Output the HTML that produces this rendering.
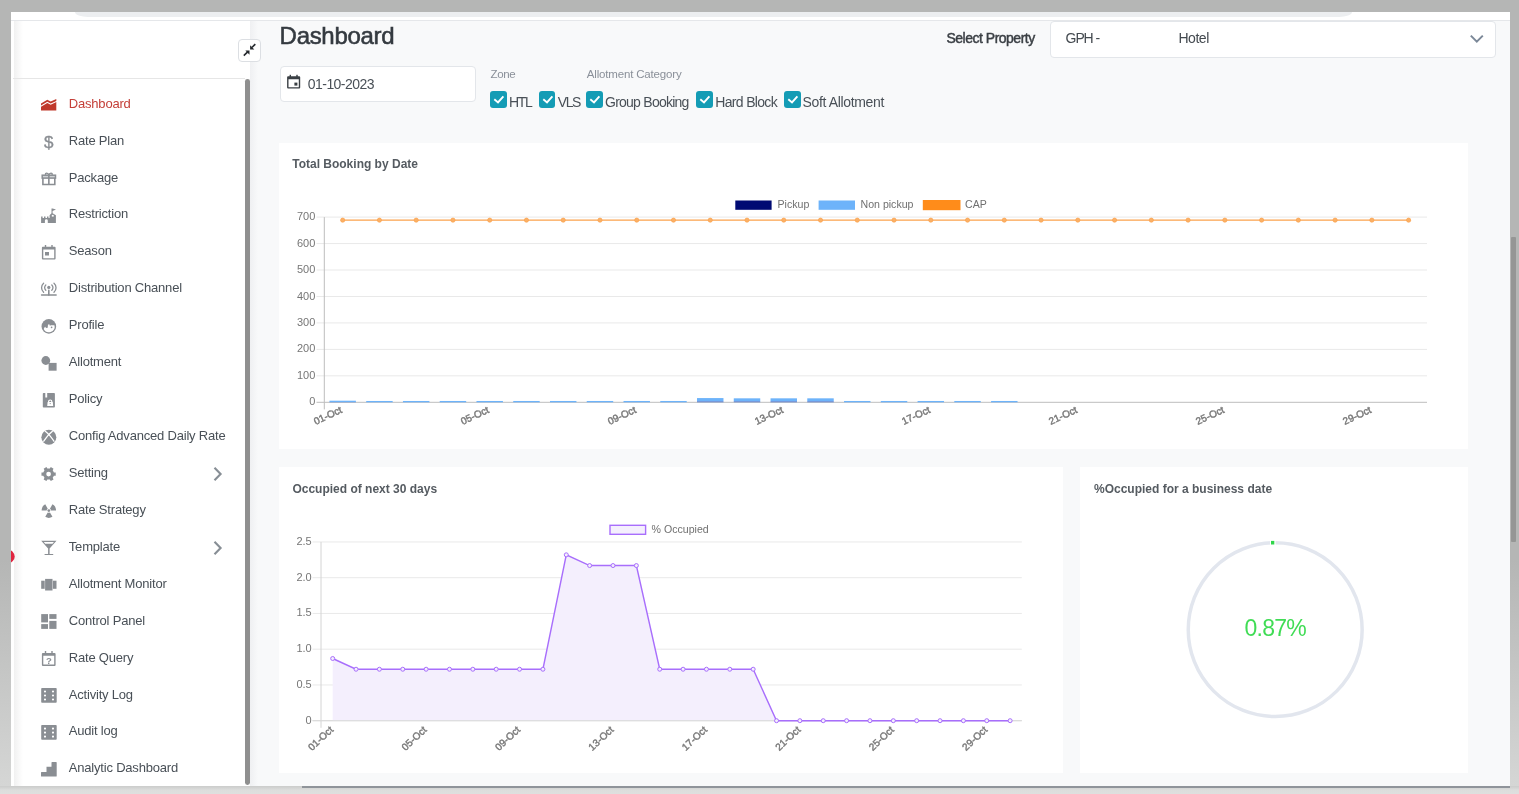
<!DOCTYPE html>
<html>
<head>
<meta charset="utf-8">
<title>Dashboard</title>
<style>
html,body{margin:0;padding:0;}
body{width:1519px;height:794px;position:relative;overflow:hidden;background:linear-gradient(to bottom,#b5b6b5 0px,#b5b6b5 560px,#d5d6d5 786px);font-family:"Liberation Sans",Arial,sans-serif;}
#frameb{position:absolute;left:0;top:786px;width:1519px;height:8px;background:linear-gradient(to bottom,#cbcccb 0px,#d3d4d3 2px,#dcdddc 4px,#dedfde 8px);}
#botline{position:absolute;left:302px;top:786px;width:1208px;height:1.6px;background:#8f949a;}
#app{position:absolute;left:11px;top:12px;width:1499px;height:774px;background:#f8f9fa;overflow:hidden;}
.abs{position:absolute;}
#topstrip{position:absolute;left:0;top:0;width:1499px;height:8px;background:#fff;}
#pill{position:absolute;left:64px;top:0;width:1277px;height:5px;background:#eceef0;border-radius:0 0 13px 13px / 0 0 5px 5px;}
#topline{position:absolute;left:0;top:8px;width:1499px;height:1px;background:#e5e7ea;}
#sidebar{position:absolute;left:0;top:9px;width:239px;height:765px;background:#fff;}
#sideshade{position:absolute;left:3px;top:9px;width:9px;height:765px;background:linear-gradient(90deg,#f1f1f1,#fff);}
#sideline{position:absolute;left:2px;top:66px;width:232px;height:1px;background:#e6e6e6;}
#sidescroll{position:absolute;left:234.2px;top:67px;width:4.9px;height:706px;background:#8f8f8f;border-radius:2.4px;}
#mainshade{position:absolute;left:239px;top:9px;width:8px;height:765px;background:linear-gradient(90deg,#eff0f2,#f8f9fa);}
#collapse{position:absolute;left:227.4px;top:27.2px;width:20.5px;height:20.7px;border:1px solid #dcdfe3;border-radius:4px;background:#fff;}
/* page-absolute elements */
.p{position:absolute;}
.ic{position:absolute;overflow:visible;}
.si{position:absolute;left:68.8px;height:20px;line-height:20px;font-size:13px;letter-spacing:-0.2px;color:#495057;white-space:nowrap;}
.si.act{color:#c43f38;}
#title{left:279.6px;top:18.6px;font-size:24px;font-weight:normal;letter-spacing:-0.3px;color:#343a40;line-height:34px;white-space:nowrap;-webkit-text-stroke:0.55px #343a40;}
.inp{position:absolute;background:#fff;border:1px solid #e3e6ea;border-radius:4px;box-sizing:border-box;}
.lbl{position:absolute;font-size:11.5px;color:#8a9099;white-space:nowrap;letter-spacing:-0.35px;}
.cb{position:absolute;top:91px;width:16.6px;height:16.7px;background:#149cb5;border-radius:3px;}
.cbt{position:absolute;top:93.2px;font-size:14px;line-height:18px;color:#495057;white-space:nowrap;letter-spacing:-0.85px;}
.card{position:absolute;background:#fff;}
.ctitle{position:absolute;font-size:12px;font-weight:bold;color:#555b61;white-space:nowrap;margin-top:0.8px;}
#scrollR{position:absolute;left:1511px;top:237px;width:5px;height:305px;background:#959695;border-radius:1px;}
</style>
</head>
<body>
<div id="app">
  <div id="topstrip"></div>
  <div id="pill"></div>
  <div id="topline"></div>
  <div id="mainshade"></div>
  <div id="sidebar"></div>
  <div id="sideshade"></div>
  <div id="sideline"></div>
  <div id="sidescroll"></div>
  <div id="collapse"><svg width="22.5" height="22.7" viewBox="0 0 22.5 22.7" style="position:absolute;left:-1px;top:-1px"><g fill="#24282d"><path d="M11.5 11.6 L11.5 15.8 L7.3 11.6 Z"/><path d="M12.1 10.5 L12.1 6.3 L16.3 10.5 Z"/></g><g stroke="#24282d" stroke-width="1.6" fill="none"><path d="M5.8 16.7 L9.7 12.9"/><path d="M17.3 5.1 L13.9 8.5"/></g></svg></div>
</div>

<!-- sidebar content -->
<svg class="ic" style="left:40px;top:96px" width="18" height="18" viewBox="40 96 18 18" fill="#c0392b"><path d="M41 103.6 L47.3 99.8 L50.7 101.6 L56.3 98.9 L56.3 100.9 L50.7 103.6 L47.3 101.8 L41 105.6 Z"/><path d="M41 106.8 L47.3 103 L50.7 104.8 L56.3 102.1 L56.3 110.6 L41 110.6 Z"/></svg>
<div class="si act" style="top:93.6px">Dashboard</div>
<svg class="ic" style="left:40px;top:132px" width="18" height="18" viewBox="40 132 18 18" fill="#8a8e93"><text x="48.8" y="147.6" text-anchor="middle" font-family="Liberation Sans" font-size="17" stroke="#8a8e93" stroke-width="0.35" fill="#8a8e93">$</text></svg>
<div class="si" style="top:130.5px">Rate Plan</div>
<svg class="ic" style="left:40px;top:170px" width="18" height="18" viewBox="40 170 18 18" fill="#8a8e93"><rect x="42.2" y="175.2" width="13.3" height="2.9" fill="#cfd2d5" stroke="#8a8e93" stroke-width="1.5"/><path fill="none" stroke="#8a8e93" stroke-width="1.6" d="M42.9 178 V184.5 H54.8 V178 M48.85 175.2 V184.5"/><path fill="none" stroke="#8a8e93" stroke-width="1.4" d="M48.85 175.1 C48.2 172.6 45 172.4 45.6 174.9 M48.85 175.1 C49.5 172.6 52.7 172.4 52.1 174.9"/></svg>
<div class="si" style="top:167.5px">Package</div>
<svg class="ic" style="left:40px;top:206px" width="18" height="18" viewBox="40 206 18 18" fill="#8a8e93"><path d="M41.1 222.9 V216.5 H42.6 V218 H44 V216.5 H45.5 V218 H47 V216.5 H48.5 V218 H49.6 V215.3 L51.5 213.3 V208.5 H52.6 L56 209.6 L52.6 210.9 V213.3 L55.9 215.3 V222.9 H47.8 V220.6 A1.45 1.45 0 0 0 44.9 220.6 V222.9 Z"/><rect x="51.8" y="214.9" width="1.9" height="1.7" fill="#fff"/></svg>
<div class="si" style="top:204.4px">Restriction</div>
<svg class="ic" style="left:40px;top:243px" width="18" height="18" viewBox="40 243 18 18" fill="#8a8e93"><path fill-rule="evenodd" d="M43 246.8 H54.6 A1 1 0 0 1 55.6 247.8 V258.6 A1 1 0 0 1 54.6 259.6 H42.9 A1 1 0 0 1 41.9 258.6 V247.8 A1 1 0 0 1 43 246.8 Z M43.3 249.6 V258.2 H54.2 V249.6 Z"/><rect x="44.8" y="245" width="1.4" height="2.5"/><rect x="51.3" y="245" width="1.4" height="2.5"/><rect x="45" y="252" width="4" height="3.5"/></svg>
<div class="si" style="top:241.3px">Season</div>
<svg class="ic" style="left:40px;top:280px" width="18" height="18" viewBox="40 280 18 18" fill="#8a8e93"><g fill="none" stroke="#8a8e93" stroke-width="1.3" stroke-linecap="round"><path d="M43.6 283.2 A6 6 0 0 0 43.6 292.2 M54 283.2 A6 6 0 0 1 54 292.2"/><path d="M45.8 285 A3.5 3.5 0 0 0 45.8 290.2 M51.8 285 A3.5 3.5 0 0 1 51.8 290.2"/><path d="M41.5 295 H56.2"/><path stroke-width="1.6" d="M48.8 290.4 V295"/></g><circle cx="48.8" cy="287.4" r="1.6"/></svg>
<div class="si" style="top:278.2px">Distribution Channel</div>
<svg class="ic" style="left:40px;top:316px" width="18" height="18" viewBox="40 316 18 18" fill="#8a8e93"><circle cx="48.85" cy="326.4" r="7.3"/><path fill="#fff" d="M43.7 329.1 L44.6 327.3 L45.4 326.7 L45.9 327.9 L47.7 327.8 L48.0 324.5 L49.6 324.5 L49.8 325.7 C51 325.3 53.4 325.2 54.6 325.6 A5.8 5.8 0 0 1 43.7 329.1 Z"/><circle cx="51.6" cy="327.3" r="0.85"/></svg>
<div class="si" style="top:315.2px">Profile</div>
<svg class="ic" style="left:40px;top:354px" width="18" height="18" viewBox="40 354 18 18" fill="#8a8e93"><circle cx="45.8" cy="360.5" r="4.4"/><rect x="48.6" y="362.9" width="8" height="7.8"/></svg>
<div class="si" style="top:352.1px">Allotment</div>
<svg class="ic" style="left:40px;top:391px" width="18" height="18" viewBox="40 391 18 18" fill="#8a8e93"><path d="M43.6 393 H45.3 V397.5 H47.2 V393 H54.1 A0.8 0.8 0 0 1 54.9 393.8 V406.7 A0.8 0.8 0 0 1 54.1 407.5 H43.6 A0.8 0.8 0 0 1 42.8 406.7 V393.8 A0.8 0.8 0 0 1 43.6 393 Z"/><path fill="#fff" d="M47.6 402 H52.8 L53.2 405.9 H47.2 Z"/><path fill="none" stroke="#fff" stroke-width="1.2" d="M48.6 402.2 V401.6 A1.6 1.6 0 0 1 51.8 401.6 V402.2"/><circle cx="50.2" cy="403.6" r="0.6" fill="#8a8e93"/></svg>
<div class="si" style="top:389.0px">Policy</div>
<svg class="ic" style="left:40px;top:428px" width="18" height="18" viewBox="40 428 18 18" fill="#8a8e93"><circle cx="48.85" cy="437.2" r="7.5"/><path fill="none" stroke="#fff" stroke-width="1.2" d="M45 430.9 Q49.6 434.4 54.3 441.6 M52.7 430.9 Q48.1 434.4 43.4 441.6"/></svg>
<div class="si" style="top:426.0px">Config Advanced Daily Rate</div>
<svg class="ic" style="left:40px;top:465px" width="18" height="18" viewBox="40 465 18 18" fill="#8a8e93"><path fill-rule="evenodd" d="M53.95 472.40 L55.72 472.46 L55.72 475.64 L53.95 475.70 L52.71 477.86 L53.54 479.42 L50.78 481.02 L49.84 479.51 L47.36 479.51 L46.42 481.02 L43.66 479.42 L44.49 477.86 L43.25 475.70 L41.48 475.64 L41.48 472.46 L43.25 472.40 L44.49 470.24 L43.66 468.68 L46.42 467.08 L47.36 468.59 L49.84 468.59 L50.78 467.08 L53.54 468.68 L52.71 470.24 Z M48.6 471.7 A2.35 2.35 0 1 0 48.6 476.4 A2.35 2.35 0 1 0 48.6 471.7 Z"/></svg>
<div class="si" style="top:462.9px">Setting</div>
<svg class="ic" style="left:210.5px;top:465.9px" width="14" height="16" viewBox="0 0 14 16"><path d="M3.5 1.8 L9.6 8 L3.5 14.2" fill="none" stroke="#878e95" stroke-width="2.1"/></svg>
<svg class="ic" style="left:40px;top:501px" width="18" height="18" viewBox="40 501 18 18" fill="#8a8e93"><path d="M46.65 510.60 L41.65 510.60 A7.2 7.2 0 0 1 45.25 504.36 L47.75 508.69 A2.2 2.2 0 0 0 46.65 510.60 Z M49.95 508.69 L52.45 504.36 A7.2 7.2 0 0 1 56.05 510.60 L51.05 510.60 A2.2 2.2 0 0 0 49.95 508.69 Z M49.95 512.51 L52.45 516.84 A7.2 7.2 0 0 1 45.25 516.84 L47.75 512.51 A2.2 2.2 0 0 0 49.95 512.51 Z"/><circle cx="48.85" cy="510.6" r="1.4"/></svg>
<div class="si" style="top:499.8px">Rate Strategy</div>
<svg class="ic" style="left:40px;top:538px" width="18" height="18" viewBox="40 538 18 18" fill="#8a8e93"><path fill-rule="evenodd" d="M41.2 540.7 H56.5 L49.6 548.6 V553.9 H53.2 V555.1 H44.6 V553.9 H48.1 V548.6 Z M43.8 542.1 L45.2 543.8 H52.5 L53.9 542.1 Z"/></svg>
<div class="si" style="top:536.8px">Template</div>
<svg class="ic" style="left:210.5px;top:539.8px" width="14" height="16" viewBox="0 0 14 16"><path d="M3.5 1.8 L9.6 8 L3.5 14.2" fill="none" stroke="#878e95" stroke-width="2.1"/></svg>
<svg class="ic" style="left:40px;top:576px" width="18" height="18" viewBox="40 576 18 18" fill="#8a8e93"><rect x="41.2" y="580.7" width="3.5" height="8.1"/><rect x="45.1" y="578.9" width="7.4" height="11.6"/><rect x="52.9" y="580.7" width="3.6" height="8.1"/></svg>
<div class="si" style="top:573.7px">Allotment Monitor</div>
<svg class="ic" style="left:40px;top:612px" width="18" height="18" viewBox="40 612 18 18" fill="#8a8e93"><rect x="41.2" y="614.1" width="6.8" height="8.3"/><rect x="41.2" y="624.1" width="6.8" height="4.8"/><rect x="49.3" y="614.1" width="7.2" height="4.8"/><rect x="49.3" y="620.9" width="7.2" height="8"/></svg>
<div class="si" style="top:610.6px">Control Panel</div>
<svg class="ic" style="left:40px;top:649px" width="18" height="18" viewBox="40 649 18 18" fill="#8a8e93"><path fill-rule="evenodd" d="M43 653 H54.6 A1 1 0 0 1 55.6 654 V665 A1 1 0 0 1 54.6 666 H42.9 A1 1 0 0 1 41.9 665 V654 A1 1 0 0 1 43 653 Z M43.3 655.8 V664.6 H54.2 V655.8 Z"/><rect x="44.8" y="651" width="1.4" height="2.5"/><rect x="51.3" y="651" width="1.4" height="2.5"/><text x="48.8" y="664" text-anchor="middle" font-family="Liberation Sans" font-size="9.5" font-weight="bold" fill="#8a8e93">?</text></svg>
<div class="si" style="top:647.6px">Rate Query</div>
<svg class="ic" style="left:40px;top:686px" width="18" height="18" viewBox="40 686 18 18" fill="#8a8e93"><path fill-rule="evenodd" d="M42 687.9 H55.9 A0.8 0.8 0 0 1 56.7 688.6999999999999 V701.9 A0.8 0.8 0 0 1 55.9 702.6999999999999 H42 A0.8 0.8 0 0 1 41.2 701.9 V688.6999999999999 A0.8 0.8 0 0 1 42 687.9 Z M43.9 691.5 A1.1 1.1 0 1 0 46.1 691.5 A1.1 1.1 0 1 0 43.9 691.5 Z M51.9 691.5 A1.1 1.1 0 1 0 54.1 691.5 A1.1 1.1 0 1 0 51.9 691.5 Z M43.9 695.5 A1.1 1.1 0 1 0 46.1 695.5 A1.1 1.1 0 1 0 43.9 695.5 Z M51.9 695.5 A1.1 1.1 0 1 0 54.1 695.5 A1.1 1.1 0 1 0 51.9 695.5 Z M43.9 699.5 A1.1 1.1 0 1 0 46.1 699.5 A1.1 1.1 0 1 0 43.9 699.5 Z M51.9 699.5 A1.1 1.1 0 1 0 54.1 699.5 A1.1 1.1 0 1 0 51.9 699.5 Z"/></svg>
<div class="si" style="top:684.5px">Activity Log</div>
<svg class="ic" style="left:40px;top:723px" width="18" height="18" viewBox="40 723 18 18" fill="#8a8e93"><path fill-rule="evenodd" d="M42 725.0 H55.9 A0.8 0.8 0 0 1 56.7 725.8 V739.0 A0.8 0.8 0 0 1 55.9 739.8 H42 A0.8 0.8 0 0 1 41.2 739.0 V725.8 A0.8 0.8 0 0 1 42 725.0 Z M43.9 728.6 A1.1 1.1 0 1 0 46.1 728.6 A1.1 1.1 0 1 0 43.9 728.6 Z M51.9 728.6 A1.1 1.1 0 1 0 54.1 728.6 A1.1 1.1 0 1 0 51.9 728.6 Z M43.9 732.6 A1.1 1.1 0 1 0 46.1 732.6 A1.1 1.1 0 1 0 43.9 732.6 Z M51.9 732.6 A1.1 1.1 0 1 0 54.1 732.6 A1.1 1.1 0 1 0 51.9 732.6 Z M43.9 736.6 A1.1 1.1 0 1 0 46.1 736.6 A1.1 1.1 0 1 0 43.9 736.6 Z M51.9 736.6 A1.1 1.1 0 1 0 54.1 736.6 A1.1 1.1 0 1 0 51.9 736.6 Z"/></svg>
<div class="si" style="top:721.4px">Audit log</div>
<svg class="ic" style="left:40px;top:760px" width="18" height="18" viewBox="40 760 18 18" fill="#8a8e93"><path d="M41.6 772 H46.5 V766.8 H51.5 V762.6 A0.6 0.6 0 0 1 52.1 762 H56.1 A0.6 0.6 0 0 1 56.7 762.6 V775.9 A0.6 0.6 0 0 1 56.1 776.5 H41.6 A0.6 0.6 0 0 1 41 775.9 V772.6 A0.6 0.6 0 0 1 41.6 772 Z"/></svg>
<div class="si" style="top:758.3px">Analytic Dashboard</div>

<!-- header -->
<div id="title" class="p">Dashboard</div>
<div class="inp" style="left:279.7px;top:65.5px;width:196.8px;height:36.1px;"></div>
<svg class="ic" style="left:286px;top:74px" width="16" height="16" viewBox="286 74 16 16" fill="#3a3f44">
  <path fill-rule="evenodd" d="M288.2 76.3 H299.2 A1 1 0 0 1 300.2 77.3 V87.6 A1 1 0 0 1 299.2 88.6 H288.1 A1 1 0 0 1 287.1 87.6 V77.3 A1 1 0 0 1 288.2 76.3 Z M288.5 79.3 V87.2 H298.8 V79.3 Z"/>
  <rect x="289.6" y="74.8" width="1.4" height="2.2"/><rect x="296.3" y="74.8" width="1.4" height="2.2"/>
  <rect x="294.4" y="82.6" width="3" height="3"/>
</svg>
<div class="p" style="left:307.8px;top:74.6px;font-size:14px;line-height:18px;color:#495057;letter-spacing:-0.55px;">01-10-2023</div>

<div class="lbl" style="left:490.5px;top:67.7px;">Zone</div>
<div class="lbl" style="left:586.8px;top:67.7px;letter-spacing:-0.17px;">Allotment Category</div>

<div class="cb" style="left:490.3px"></div><svg class="ic" style="left:490.3px;top:91px" width="17" height="17" viewBox="0 0 17 17"><path d="M4.3 8.3 L8.0 11.4 L13.4 5.3" fill="none" stroke="#fff" stroke-width="1.9"/></svg>
<div class="cbt" style="left:509px;letter-spacing:-1.3px">HTL</div>
<div class="cb" style="left:538.8px"></div><svg class="ic" style="left:538.8px;top:91px" width="17" height="17" viewBox="0 0 17 17"><path d="M4.3 8.3 L8.0 11.4 L13.4 5.3" fill="none" stroke="#fff" stroke-width="1.9"/></svg>
<div class="cbt" style="left:557.8px;letter-spacing:-1.4px">VLS</div>
<div class="cb" style="left:586.4px"></div><svg class="ic" style="left:586.4px;top:91px" width="17" height="17" viewBox="0 0 17 17"><path d="M4.3 8.3 L8.0 11.4 L13.4 5.3" fill="none" stroke="#fff" stroke-width="1.9"/></svg>
<div class="cbt" style="left:605px;letter-spacing:-0.75px">Group Booking</div>
<div class="cb" style="left:696.2px"></div><svg class="ic" style="left:696.2px;top:91px" width="17" height="17" viewBox="0 0 17 17"><path d="M4.3 8.3 L8.0 11.4 L13.4 5.3" fill="none" stroke="#fff" stroke-width="1.9"/></svg>
<div class="cbt" style="left:715.3px;letter-spacing:-0.68px">Hard Block</div>
<div class="cb" style="left:784px"></div><svg class="ic" style="left:784px;top:91px" width="17" height="17" viewBox="0 0 17 17"><path d="M4.3 8.3 L8.0 11.4 L13.4 5.3" fill="none" stroke="#fff" stroke-width="1.9"/></svg>
<div class="cbt" style="left:802.5px;letter-spacing:-0.35px">Soft Allotment</div>

<div class="p" style="left:946.5px;top:29.2px;font-size:14px;line-height:18px;color:#3a3f44;-webkit-text-stroke:0.45px #3a3f44;letter-spacing:-0.5px;white-space:nowrap;">Select Property</div>
<div class="inp" style="left:1049.5px;top:21.2px;width:446.5px;height:36.5px;"></div>
<div class="p" style="left:1065.6px;top:29.2px;font-size:14px;line-height:18px;color:#43494f;letter-spacing:-1.1px;white-space:nowrap;">GPH -</div>
<div class="p" style="left:1178.4px;top:29.2px;font-size:14px;line-height:18px;color:#43494f;letter-spacing:-0.45px;white-space:nowrap;">Hotel</div>
<svg class="ic" style="left:1468px;top:31px" width="16" height="14" viewBox="0 0 16 14"><path d="M2.8 4.6 L8.8 10.6 L14.8 4.6" fill="none" stroke="#7b8898" stroke-width="2"/></svg>

<!-- cards -->
<div class="card" style="left:279px;top:143px;width:1189px;height:305.6px;"></div>
<div class="ctitle" style="left:292.2px;top:156px;">Total Booking by Date</div>
<div class="card" style="left:279px;top:467.3px;width:783.7px;height:305.4px;"></div>
<div class="ctitle" style="left:292.4px;top:481px;">Occupied of next 30 days</div>
<div class="card" style="left:1080.4px;top:467.3px;width:387.6px;height:305.4px;"></div>
<div class="ctitle" style="left:1094px;top:481px;">%Occupied for a business date</div>

<svg class="p" style="left:0;top:0" width="1519" height="794" viewBox="0 0 1519 794">
<line x1="316.5" y1="402.30" x2="1427.0" y2="402.30" stroke="#bdbdbd" stroke-width="1"/>
<line x1="316.5" y1="375.84" x2="1427.0" y2="375.84" stroke="#e9e9e9" stroke-width="1"/>
<line x1="316.5" y1="349.39" x2="1427.0" y2="349.39" stroke="#e9e9e9" stroke-width="1"/>
<line x1="316.5" y1="322.93" x2="1427.0" y2="322.93" stroke="#e9e9e9" stroke-width="1"/>
<line x1="316.5" y1="296.47" x2="1427.0" y2="296.47" stroke="#e9e9e9" stroke-width="1"/>
<line x1="316.5" y1="270.01" x2="1427.0" y2="270.01" stroke="#e9e9e9" stroke-width="1"/>
<line x1="316.5" y1="243.56" x2="1427.0" y2="243.56" stroke="#e9e9e9" stroke-width="1"/>
<line x1="316.5" y1="217.10" x2="1427.0" y2="217.10" stroke="#e9e9e9" stroke-width="1"/>
<line x1="324.3" y1="217.1" x2="324.3" y2="409.4" stroke="#bdbdbd" stroke-width="1"/>
<rect x="329.45" y="400.71" width="26.46" height="1.32" fill="#6db3fa"/>
<rect x="329.45" y="402.04" width="26.46" height="0.26" fill="#5b80d0"/>
<rect x="366.20" y="400.98" width="26.46" height="1.32" fill="#6db3fa"/>
<rect x="402.96" y="400.98" width="26.46" height="1.32" fill="#6db3fa"/>
<rect x="439.72" y="400.98" width="26.46" height="1.32" fill="#6db3fa"/>
<rect x="476.47" y="400.98" width="26.46" height="1.32" fill="#6db3fa"/>
<rect x="513.23" y="400.98" width="26.46" height="1.32" fill="#6db3fa"/>
<rect x="549.99" y="400.98" width="26.46" height="1.32" fill="#6db3fa"/>
<rect x="586.74" y="400.98" width="26.46" height="1.32" fill="#6db3fa"/>
<rect x="623.50" y="400.98" width="26.46" height="1.32" fill="#6db3fa"/>
<rect x="660.26" y="400.98" width="26.46" height="1.32" fill="#6db3fa"/>
<rect x="697.01" y="398.07" width="26.46" height="3.17" fill="#6db3fa"/>
<rect x="697.01" y="401.24" width="26.46" height="1.06" fill="#5b80d0"/>
<rect x="733.77" y="398.33" width="26.46" height="2.91" fill="#6db3fa"/>
<rect x="733.77" y="401.24" width="26.46" height="1.06" fill="#5b80d0"/>
<rect x="770.53" y="398.33" width="26.46" height="2.91" fill="#6db3fa"/>
<rect x="770.53" y="401.24" width="26.46" height="1.06" fill="#5b80d0"/>
<rect x="807.28" y="398.33" width="26.46" height="2.91" fill="#6db3fa"/>
<rect x="807.28" y="401.24" width="26.46" height="1.06" fill="#5b80d0"/>
<rect x="844.04" y="400.98" width="26.46" height="1.32" fill="#6db3fa"/>
<rect x="880.80" y="400.98" width="26.46" height="1.32" fill="#6db3fa"/>
<rect x="917.55" y="400.98" width="26.46" height="1.32" fill="#6db3fa"/>
<rect x="954.31" y="400.98" width="26.46" height="1.32" fill="#6db3fa"/>
<rect x="991.07" y="400.98" width="26.46" height="1.32" fill="#6db3fa"/>
<line x1="342.68" y1="220.15" x2="1408.62" y2="220.15" stroke="#fba24c" stroke-width="1.35"/>
<circle cx="342.68" cy="220.15" r="2.1" fill="#fbb066" stroke="#fba24c" stroke-width="0.7"/>
<circle cx="379.44" cy="220.15" r="2.1" fill="#fbb066" stroke="#fba24c" stroke-width="0.7"/>
<circle cx="416.19" cy="220.15" r="2.1" fill="#fbb066" stroke="#fba24c" stroke-width="0.7"/>
<circle cx="452.95" cy="220.15" r="2.1" fill="#fbb066" stroke="#fba24c" stroke-width="0.7"/>
<circle cx="489.71" cy="220.15" r="2.1" fill="#fbb066" stroke="#fba24c" stroke-width="0.7"/>
<circle cx="526.46" cy="220.15" r="2.1" fill="#fbb066" stroke="#fba24c" stroke-width="0.7"/>
<circle cx="563.22" cy="220.15" r="2.1" fill="#fbb066" stroke="#fba24c" stroke-width="0.7"/>
<circle cx="599.98" cy="220.15" r="2.1" fill="#fbb066" stroke="#fba24c" stroke-width="0.7"/>
<circle cx="636.73" cy="220.15" r="2.1" fill="#fbb066" stroke="#fba24c" stroke-width="0.7"/>
<circle cx="673.49" cy="220.15" r="2.1" fill="#fbb066" stroke="#fba24c" stroke-width="0.7"/>
<circle cx="710.25" cy="220.15" r="2.1" fill="#fbb066" stroke="#fba24c" stroke-width="0.7"/>
<circle cx="747.00" cy="220.15" r="2.1" fill="#fbb066" stroke="#fba24c" stroke-width="0.7"/>
<circle cx="783.76" cy="220.15" r="2.1" fill="#fbb066" stroke="#fba24c" stroke-width="0.7"/>
<circle cx="820.52" cy="220.15" r="2.1" fill="#fbb066" stroke="#fba24c" stroke-width="0.7"/>
<circle cx="857.27" cy="220.15" r="2.1" fill="#fbb066" stroke="#fba24c" stroke-width="0.7"/>
<circle cx="894.03" cy="220.15" r="2.1" fill="#fbb066" stroke="#fba24c" stroke-width="0.7"/>
<circle cx="930.79" cy="220.15" r="2.1" fill="#fbb066" stroke="#fba24c" stroke-width="0.7"/>
<circle cx="967.54" cy="220.15" r="2.1" fill="#fbb066" stroke="#fba24c" stroke-width="0.7"/>
<circle cx="1004.30" cy="220.15" r="2.1" fill="#fbb066" stroke="#fba24c" stroke-width="0.7"/>
<circle cx="1041.06" cy="220.15" r="2.1" fill="#fbb066" stroke="#fba24c" stroke-width="0.7"/>
<circle cx="1077.81" cy="220.15" r="2.1" fill="#fbb066" stroke="#fba24c" stroke-width="0.7"/>
<circle cx="1114.57" cy="220.15" r="2.1" fill="#fbb066" stroke="#fba24c" stroke-width="0.7"/>
<circle cx="1151.33" cy="220.15" r="2.1" fill="#fbb066" stroke="#fba24c" stroke-width="0.7"/>
<circle cx="1188.08" cy="220.15" r="2.1" fill="#fbb066" stroke="#fba24c" stroke-width="0.7"/>
<circle cx="1224.84" cy="220.15" r="2.1" fill="#fbb066" stroke="#fba24c" stroke-width="0.7"/>
<circle cx="1261.60" cy="220.15" r="2.1" fill="#fbb066" stroke="#fba24c" stroke-width="0.7"/>
<circle cx="1298.35" cy="220.15" r="2.1" fill="#fbb066" stroke="#fba24c" stroke-width="0.7"/>
<circle cx="1335.11" cy="220.15" r="2.1" fill="#fbb066" stroke="#fba24c" stroke-width="0.7"/>
<circle cx="1371.87" cy="220.15" r="2.1" fill="#fbb066" stroke="#fba24c" stroke-width="0.7"/>
<circle cx="1408.62" cy="220.15" r="2.1" fill="#fbb066" stroke="#fba24c" stroke-width="0.7"/>
<rect x="735.3" y="200.5" width="36.3" height="9.3" fill="#000a73"/>
<text x="777.5" y="207.8" font-size="10.6" fill="#707070" font-family="Liberation Sans, Arial, sans-serif">Pickup</text>
<rect x="818.6" y="200.5" width="36.4" height="9.3" fill="#6db3fa"/>
<text x="860.5" y="207.8" font-size="10.6" fill="#707070" font-family="Liberation Sans, Arial, sans-serif">Non pickup</text>
<rect x="922.8" y="200" width="37.7" height="10.2" fill="#ff8c1a"/>
<text x="965" y="207.8" font-size="10.6" fill="#707070" font-family="Liberation Sans, Arial, sans-serif">CAP</text>
<line x1="312.5" y1="720.70" x2="1021.8" y2="720.70" stroke="#dadada" stroke-width="1"/>
<line x1="312.5" y1="684.95" x2="1021.8" y2="684.95" stroke="#e9e9e9" stroke-width="1"/>
<line x1="312.5" y1="649.20" x2="1021.8" y2="649.20" stroke="#e9e9e9" stroke-width="1"/>
<line x1="312.5" y1="613.45" x2="1021.8" y2="613.45" stroke="#e9e9e9" stroke-width="1"/>
<line x1="312.5" y1="577.70" x2="1021.8" y2="577.70" stroke="#e9e9e9" stroke-width="1"/>
<line x1="312.5" y1="541.95" x2="1021.8" y2="541.95" stroke="#e9e9e9" stroke-width="1"/>
<path d="M332.68 720.7 L332.68 658.50 L356.04 669.22 L379.40 669.22 L402.76 669.22 L426.12 669.22 L449.48 669.22 L472.84 669.22 L496.20 669.22 L519.56 669.22 L542.92 669.22 L566.28 554.82 L589.64 565.55 L613.00 565.55 L636.36 565.55 L659.72 669.22 L683.08 669.22 L706.44 669.22 L729.80 669.22 L753.16 669.22 L776.52 720.70 L799.88 720.70 L823.24 720.70 L846.60 720.70 L869.96 720.70 L893.32 720.70 L916.68 720.70 L940.04 720.70 L963.40 720.70 L986.76 720.70 L1010.12 720.70 L1010.12 720.7 Z" fill="#f4effd"/>
<line x1="321.0" y1="541.95" x2="321.0" y2="727.8" stroke="#d4d4d4" stroke-width="1"/>
<line x1="312.5" y1="720.7" x2="1021.8" y2="720.7" stroke="#dadada" stroke-width="1"/>
<path d="M332.68 658.50 L356.04 669.22 L379.40 669.22 L402.76 669.22 L426.12 669.22 L449.48 669.22 L472.84 669.22 L496.20 669.22 L519.56 669.22 L542.92 669.22 L566.28 554.82 L589.64 565.55 L613.00 565.55 L636.36 565.55 L659.72 669.22 L683.08 669.22 L706.44 669.22 L729.80 669.22 L753.16 669.22 L776.52 720.70 L799.88 720.70 L823.24 720.70 L846.60 720.70 L869.96 720.70 L893.32 720.70 L916.68 720.70 L940.04 720.70 L963.40 720.70 L986.76 720.70 L1010.12 720.70" fill="none" stroke="#a86efc" stroke-width="1.4"/>
<circle cx="332.68" cy="658.50" r="2" fill="#f4effd" stroke="#a86efc" stroke-width="1"/>
<circle cx="356.04" cy="669.22" r="2" fill="#f4effd" stroke="#a86efc" stroke-width="1"/>
<circle cx="379.40" cy="669.22" r="2" fill="#f4effd" stroke="#a86efc" stroke-width="1"/>
<circle cx="402.76" cy="669.22" r="2" fill="#f4effd" stroke="#a86efc" stroke-width="1"/>
<circle cx="426.12" cy="669.22" r="2" fill="#f4effd" stroke="#a86efc" stroke-width="1"/>
<circle cx="449.48" cy="669.22" r="2" fill="#f4effd" stroke="#a86efc" stroke-width="1"/>
<circle cx="472.84" cy="669.22" r="2" fill="#f4effd" stroke="#a86efc" stroke-width="1"/>
<circle cx="496.20" cy="669.22" r="2" fill="#f4effd" stroke="#a86efc" stroke-width="1"/>
<circle cx="519.56" cy="669.22" r="2" fill="#f4effd" stroke="#a86efc" stroke-width="1"/>
<circle cx="542.92" cy="669.22" r="2" fill="#f4effd" stroke="#a86efc" stroke-width="1"/>
<circle cx="566.28" cy="554.82" r="2" fill="#f4effd" stroke="#a86efc" stroke-width="1"/>
<circle cx="589.64" cy="565.55" r="2" fill="#f4effd" stroke="#a86efc" stroke-width="1"/>
<circle cx="613.00" cy="565.55" r="2" fill="#f4effd" stroke="#a86efc" stroke-width="1"/>
<circle cx="636.36" cy="565.55" r="2" fill="#f4effd" stroke="#a86efc" stroke-width="1"/>
<circle cx="659.72" cy="669.22" r="2" fill="#f4effd" stroke="#a86efc" stroke-width="1"/>
<circle cx="683.08" cy="669.22" r="2" fill="#f4effd" stroke="#a86efc" stroke-width="1"/>
<circle cx="706.44" cy="669.22" r="2" fill="#f4effd" stroke="#a86efc" stroke-width="1"/>
<circle cx="729.80" cy="669.22" r="2" fill="#f4effd" stroke="#a86efc" stroke-width="1"/>
<circle cx="753.16" cy="669.22" r="2" fill="#f4effd" stroke="#a86efc" stroke-width="1"/>
<circle cx="776.52" cy="720.70" r="2" fill="#f4effd" stroke="#a86efc" stroke-width="1"/>
<circle cx="799.88" cy="720.70" r="2" fill="#f4effd" stroke="#a86efc" stroke-width="1"/>
<circle cx="823.24" cy="720.70" r="2" fill="#f4effd" stroke="#a86efc" stroke-width="1"/>
<circle cx="846.60" cy="720.70" r="2" fill="#f4effd" stroke="#a86efc" stroke-width="1"/>
<circle cx="869.96" cy="720.70" r="2" fill="#f4effd" stroke="#a86efc" stroke-width="1"/>
<circle cx="893.32" cy="720.70" r="2" fill="#f4effd" stroke="#a86efc" stroke-width="1"/>
<circle cx="916.68" cy="720.70" r="2" fill="#f4effd" stroke="#a86efc" stroke-width="1"/>
<circle cx="940.04" cy="720.70" r="2" fill="#f4effd" stroke="#a86efc" stroke-width="1"/>
<circle cx="963.40" cy="720.70" r="2" fill="#f4effd" stroke="#a86efc" stroke-width="1"/>
<circle cx="986.76" cy="720.70" r="2" fill="#f4effd" stroke="#a86efc" stroke-width="1"/>
<circle cx="1010.12" cy="720.70" r="2" fill="#f4effd" stroke="#a86efc" stroke-width="1"/>
<rect x="610" y="525.3" width="35.6" height="9" fill="#f4effd" stroke="#a86efc" stroke-width="1.4"/>
<text x="651.6" y="533" font-size="10.6" fill="#707070" font-family="Liberation Sans, Arial, sans-serif">% Occupied</text>
<circle cx="1275.2" cy="629.65" r="86.95" fill="none" stroke="#e2e6ee" stroke-width="3.5"/>
<rect x="1270" y="540" width="5.6" height="6" fill="#fff"/>
<rect x="1271" y="540.9" width="3.3" height="3.6" fill="#2fd64a"/>
<text x="1275.2" y="635.6" text-anchor="middle" font-size="23" letter-spacing="-0.8" fill="#40dc55" font-family="Liberation Sans, Arial, sans-serif">0.87%</text>
<g><text x="315.3" y="405.40" text-anchor="end" font-size="11" fill="#767676" font-family="Liberation Sans, Arial, sans-serif">0</text><text x="315.3" y="378.94" text-anchor="end" font-size="11" fill="#767676" font-family="Liberation Sans, Arial, sans-serif">100</text><text x="315.3" y="352.49" text-anchor="end" font-size="11" fill="#767676" font-family="Liberation Sans, Arial, sans-serif">200</text><text x="315.3" y="326.03" text-anchor="end" font-size="11" fill="#767676" font-family="Liberation Sans, Arial, sans-serif">300</text><text x="315.3" y="299.57" text-anchor="end" font-size="11" fill="#767676" font-family="Liberation Sans, Arial, sans-serif">400</text><text x="315.3" y="273.11" text-anchor="end" font-size="11" fill="#767676" font-family="Liberation Sans, Arial, sans-serif">500</text><text x="315.3" y="246.66" text-anchor="end" font-size="11" fill="#767676" font-family="Liberation Sans, Arial, sans-serif">600</text><text x="315.3" y="220.20" text-anchor="end" font-size="11" fill="#767676" font-family="Liberation Sans, Arial, sans-serif">700</text><text transform="translate(341.38,409.10) rotate(-25)" text-anchor="end" font-size="10" fill="#7a7a7a" stroke="#7a7a7a" stroke-width="0.45" font-family="Liberation Sans, Arial, sans-serif" dy="3.5">01-Oct</text><text transform="translate(488.41,409.10) rotate(-25)" text-anchor="end" font-size="10" fill="#7a7a7a" stroke="#7a7a7a" stroke-width="0.45" font-family="Liberation Sans, Arial, sans-serif" dy="3.5">05-Oct</text><text transform="translate(635.43,409.10) rotate(-25)" text-anchor="end" font-size="10" fill="#7a7a7a" stroke="#7a7a7a" stroke-width="0.45" font-family="Liberation Sans, Arial, sans-serif" dy="3.5">09-Oct</text><text transform="translate(782.46,409.10) rotate(-25)" text-anchor="end" font-size="10" fill="#7a7a7a" stroke="#7a7a7a" stroke-width="0.45" font-family="Liberation Sans, Arial, sans-serif" dy="3.5">13-Oct</text><text transform="translate(929.49,409.10) rotate(-25)" text-anchor="end" font-size="10" fill="#7a7a7a" stroke="#7a7a7a" stroke-width="0.45" font-family="Liberation Sans, Arial, sans-serif" dy="3.5">17-Oct</text><text transform="translate(1076.51,409.10) rotate(-25)" text-anchor="end" font-size="10" fill="#7a7a7a" stroke="#7a7a7a" stroke-width="0.45" font-family="Liberation Sans, Arial, sans-serif" dy="3.5">21-Oct</text><text transform="translate(1223.54,409.10) rotate(-25)" text-anchor="end" font-size="10" fill="#7a7a7a" stroke="#7a7a7a" stroke-width="0.45" font-family="Liberation Sans, Arial, sans-serif" dy="3.5">25-Oct</text><text transform="translate(1370.57,409.10) rotate(-25)" text-anchor="end" font-size="10" fill="#7a7a7a" stroke="#7a7a7a" stroke-width="0.45" font-family="Liberation Sans, Arial, sans-serif" dy="3.5">29-Oct</text><text x="311.7" y="723.70" text-anchor="end" font-size="11" fill="#767676" font-family="Liberation Sans, Arial, sans-serif">0</text><text x="311.7" y="687.95" text-anchor="end" font-size="11" fill="#767676" font-family="Liberation Sans, Arial, sans-serif">0.5</text><text x="311.7" y="652.20" text-anchor="end" font-size="11" fill="#767676" font-family="Liberation Sans, Arial, sans-serif">1.0</text><text x="311.7" y="616.45" text-anchor="end" font-size="11" fill="#767676" font-family="Liberation Sans, Arial, sans-serif">1.5</text><text x="311.7" y="580.70" text-anchor="end" font-size="11" fill="#767676" font-family="Liberation Sans, Arial, sans-serif">2.0</text><text x="311.7" y="544.95" text-anchor="end" font-size="11" fill="#767676" font-family="Liberation Sans, Arial, sans-serif">2.5</text><text transform="translate(331.58,728.10) rotate(-43)" text-anchor="end" font-size="10" fill="#7a7a7a" stroke="#7a7a7a" stroke-width="0.45" font-family="Liberation Sans, Arial, sans-serif" dy="3.5">01-Oct</text><text transform="translate(425.02,728.10) rotate(-43)" text-anchor="end" font-size="10" fill="#7a7a7a" stroke="#7a7a7a" stroke-width="0.45" font-family="Liberation Sans, Arial, sans-serif" dy="3.5">05-Oct</text><text transform="translate(518.46,728.10) rotate(-43)" text-anchor="end" font-size="10" fill="#7a7a7a" stroke="#7a7a7a" stroke-width="0.45" font-family="Liberation Sans, Arial, sans-serif" dy="3.5">09-Oct</text><text transform="translate(611.90,728.10) rotate(-43)" text-anchor="end" font-size="10" fill="#7a7a7a" stroke="#7a7a7a" stroke-width="0.45" font-family="Liberation Sans, Arial, sans-serif" dy="3.5">13-Oct</text><text transform="translate(705.34,728.10) rotate(-43)" text-anchor="end" font-size="10" fill="#7a7a7a" stroke="#7a7a7a" stroke-width="0.45" font-family="Liberation Sans, Arial, sans-serif" dy="3.5">17-Oct</text><text transform="translate(798.78,728.10) rotate(-43)" text-anchor="end" font-size="10" fill="#7a7a7a" stroke="#7a7a7a" stroke-width="0.45" font-family="Liberation Sans, Arial, sans-serif" dy="3.5">21-Oct</text><text transform="translate(892.22,728.10) rotate(-43)" text-anchor="end" font-size="10" fill="#7a7a7a" stroke="#7a7a7a" stroke-width="0.45" font-family="Liberation Sans, Arial, sans-serif" dy="3.5">25-Oct</text><text transform="translate(985.66,728.10) rotate(-43)" text-anchor="end" font-size="10" fill="#7a7a7a" stroke="#7a7a7a" stroke-width="0.45" font-family="Liberation Sans, Arial, sans-serif" dy="3.5">29-Oct</text></g>
</svg>

<div id="frameb"></div><div id="botline"></div>
<div id="scrollR"></div>
<svg class="p" style="left:11px;top:545px" width="6" height="24" viewBox="11 545 6 24"><circle cx="8.2" cy="556.5" r="6.5" fill="#e0243f"/></svg>
</body>
</html>
